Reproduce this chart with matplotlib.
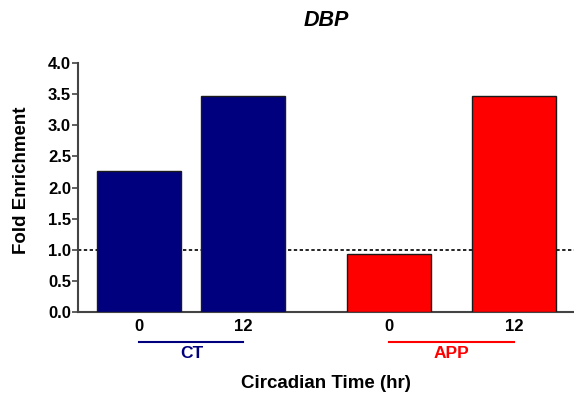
import matplotlib.pyplot as plt
import matplotlib.transforms as mtransforms

plt.rcParams['font.family'] = ['Liberation Sans', 'DejaVu Sans']
plt.rcParams['font.weight'] = 'bold'

# data
groups = ["CT", "APP"]
group_colors = ["#00007f", "#ff0000"]
times = ["0", "12"]
values = {"CT": [2.26, 3.47], "APP": [0.93, 3.47]}
baseline = 1.0

fig = plt.figure(figsize=(5.74, 3.96), dpi=100)
ax = fig.add_axes([78 / 574, 1 - 312 / 396, 1 - 78 / 574, (312 - 63) / 396])

# layout (in bar widths)
width = 1.0
first = 0.73
steps = [1.24, 1.49]
group_gap = 1.73

positions = []
x = first
for gi, g in enumerate(groups):
    xs = [x + i * steps[gi] for i in range(len(times))]
    positions.append(xs)
    ax.bar(xs, values[g], width=width, color=group_colors[gi],
           edgecolor="#1a1a1a", linewidth=1.0, zorder=3)
    x = xs[-1] + group_gap

ax.axhline(baseline, color="black", linestyle=(0, (2, 1.5)), linewidth=1.2, zorder=2)

ax.set_xlim(0, 5.905)
ax.set_ylim(0, 4.0)
ax.set_yticks([0, 0.5, 1.0, 1.5, 2.0, 2.5, 3.0, 3.5, 4.0])
ax.set_yticklabels([f"{v:.1f}" for v in ax.get_yticks()])
all_x = [p for xs in positions for p in xs]
ax.set_xticks(all_x)
ax.set_xticklabels(times * len(groups))
ax.tick_params(axis="x", length=0, pad=5, labelsize=12)
ax.tick_params(axis="y", length=4, width=1.2, pad=1, labelsize=12, color="#444444")

for side in ["top", "right"]:
    ax.spines[side].set_visible(False)
for side in ["left", "bottom"]:
    ax.spines[side].set_linewidth(1.5)
    ax.spines[side].set_color("#444444")

# group brackets below tick labels
trans = mtransforms.blended_transform_factory(ax.transData, fig.transFigure)
for gi, g in enumerate(groups):
    xs = positions[gi]
    ax.plot([xs[0], xs[-1]], [1 - 342 / 396] * 2, transform=trans,
            color=group_colors[gi], linewidth=1.5, clip_on=False)
    ax.text((xs[0] + xs[-1]) / 2, 1 - 354 / 396, g, transform=trans,
            color=group_colors[gi], ha="center", va="center", fontsize=12.5,
            fontweight="bold")

fig.text((78 + 574) / 2 / 574, 1 - 383 / 396, "Circadian Time (hr)",
         ha="center", va="center", fontsize=13.5, fontweight="bold")
fig.text(22 / 574, 1 - 180 / 396, "Fold Enrichment", ha="center", va="center",
         rotation=90, fontsize=13.5, fontweight="bold")
fig.text((78 + 574) / 2 / 574, 1 - 20 / 396, "DBP", ha="center", va="center",
         fontsize=15.5, style="italic", fontweight="bold")

fig.savefig("out.png", dpi=100)
